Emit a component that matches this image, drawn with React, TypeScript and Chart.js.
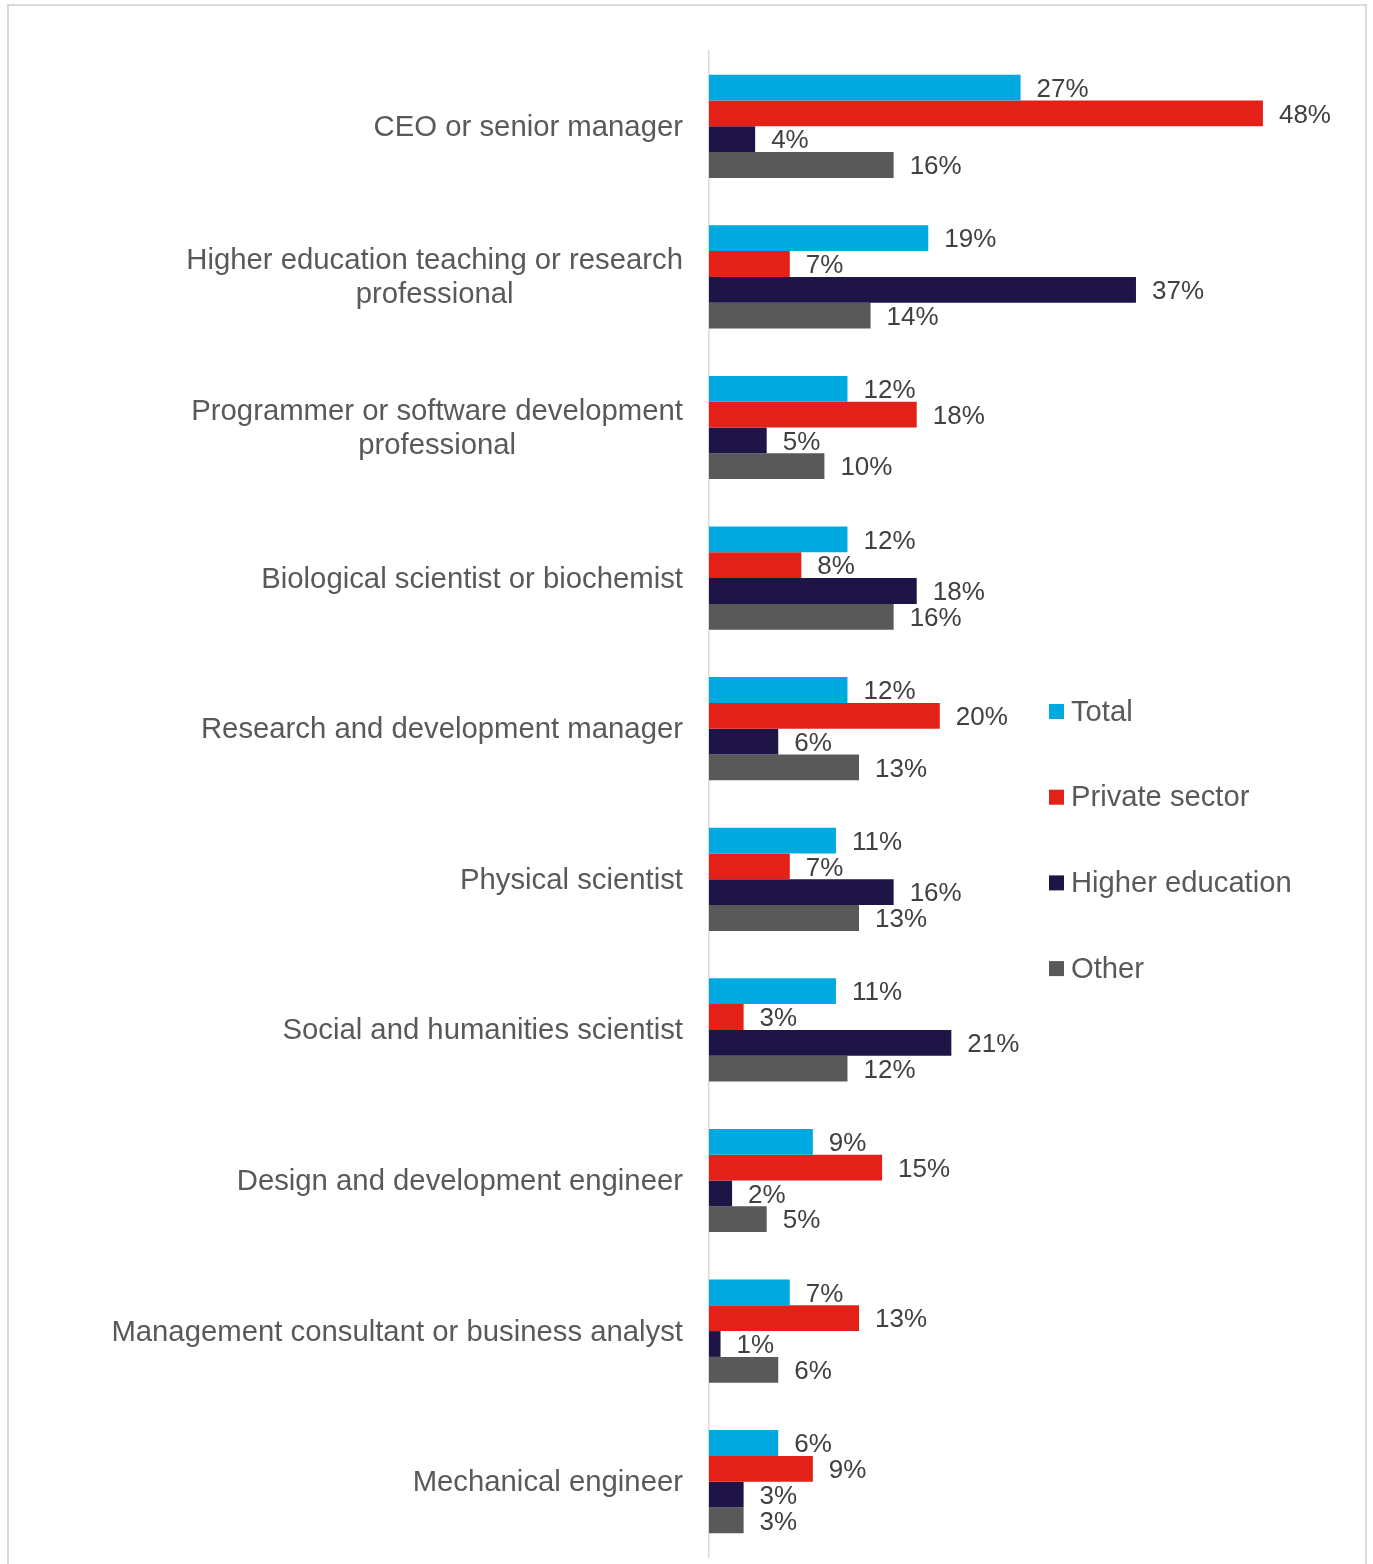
import React, { useEffect, useRef } from "react";
import { Chart, registerables } from "chart.js";

Chart.register(...registerables);

// Occupation categories (multi-line labels are split into lines)
const categories: string[][] = [
  ["CEO or senior manager"],
  ["Higher education teaching or research", "professional"],
  ["Programmer or software development", "professional"],
  ["Biological scientist or biochemist"],
  ["Research and development manager"],
  ["Physical scientist"],
  ["Social and humanities scientist"],
  ["Design and development engineer"],
  ["Management consultant or business analyst"],
  ["Mechanical engineer"],
];

const seriesNames = ["Total", "Private sector", "Higher education", "Other"];

// Share of respondents (%) per category
const totalValues = [27, 19, 12, 12, 12, 11, 11, 9, 7, 6];
const privateValues = [48, 7, 18, 8, 20, 7, 3, 15, 13, 9];
const higherEdValues = [4, 37, 5, 18, 6, 16, 21, 2, 1, 3];
const otherValues = [16, 14, 10, 16, 13, 13, 12, 5, 6, 3];

const seriesColors = ["#00A9E0", "#E32119", "#1E1446", "#595959"];
const axisMax = 50;

const FONT = '"Liberation Sans", Arial, Helvetica, sans-serif';

const categoryLabelPlugin = {
  id: "categoryLabels",
  afterDraw(chart: any) {
    const { ctx, chartArea } = chart;
    const yScale = chart.scales.y;
    const labels = chart.data.labels as string[][];
    ctx.save();
    ctx.font = `29.3px ${FONT}`;
    ctx.fillStyle = "#595959";
    ctx.textAlign = "center";
    ctx.textBaseline = "middle";
    const lineHeight = 34;
    const rightEdge = chartArea.left - 26;
    labels.forEach((lines, i) => {
      const yc = yScale.getPixelForValue(i) + 1.5;
      const widest = Math.max(...lines.map((l) => ctx.measureText(l).width));
      const cx = rightEdge - widest / 2;
      lines.forEach((line, j) => {
        const y = yc + (j - (lines.length - 1) / 2) * lineHeight;
        ctx.fillText(line, cx, y);
      });
    });
    ctx.restore();
  },
};

const valueLabelPlugin = {
  id: "valueLabels",
  afterDatasetsDraw(chart: any) {
    const { ctx } = chart;
    ctx.save();
    ctx.font = `26px ${FONT}`;
    ctx.fillStyle = "#404040";
    ctx.textAlign = "left";
    ctx.textBaseline = "middle";
    chart.data.datasets.forEach((ds: any, di: number) => {
      const meta = chart.getDatasetMeta(di);
      meta.data.forEach((el: any, i: number) => {
        ctx.fillText(`${ds.data[i]}%`, el.x + 16, el.y + 2);
      });
    });
    ctx.restore();
  },
};

const legendPlugin = {
  id: "sideLegend",
  afterDraw(chart: any) {
    const { ctx } = chart;
    ctx.save();
    ctx.font = `29.2px ${FONT}`;
    ctx.textAlign = "left";
    ctx.textBaseline = "middle";
    const x0 = 1049;
    const y0 = 711.5;
    const step = 85.7;
    chart.data.datasets.forEach((ds: any, i: number) => {
      const y = y0 + i * step;
      ctx.fillStyle = ds.backgroundColor;
      ctx.fillRect(x0, y - 7.5, 15, 15);
      ctx.fillStyle = "#595959";
      ctx.fillText(ds.label, x0 + 22, y + 1);
    });
    ctx.restore();
  },
};

export default function App() {
  const canvasRef = useRef<HTMLCanvasElement | null>(null);

  useEffect(() => {
    if (!canvasRef.current) return;
    const seriesData = [totalValues, privateValues, higherEdValues, otherValues];
    const chart = new Chart(canvasRef.current, {
      type: "bar",
      data: {
        labels: categories,
        datasets: seriesNames.map((name, i) => ({
          label: name,
          data: seriesData[i],
          backgroundColor: seriesColors[i],
          borderWidth: 0,
          categoryPercentage: 0.685,
          barPercentage: 1.0,
        })),
      },
      options: {
        indexAxis: "y",
        responsive: false,
        animation: false,
        devicePixelRatio: 1,
        layout: { padding: { left: 709, right: 87, top: 51, bottom: 7 } },
        plugins: {
          legend: { display: false },
          tooltip: { enabled: false },
        },
        scales: {
          x: {
            display: false,
            min: 0,
            max: axisMax,
          },
          y: {
            display: true,
            ticks: { display: false },
            grid: { display: false, drawTicks: false },
            border: { display: true, color: "#D9D9D9", width: 1.5 },
            afterFit: (scale: any) => {
              scale.width = 0;
            },
          },
        },
      },
      plugins: [categoryLabelPlugin, valueLabelPlugin, legendPlugin],
    } as any);
    return () => chart.destroy();
  }, []);

  return (
    <div
      style={{
        position: "absolute",
        left: 0,
        top: 0,
        width: 1373,
        height: 1564,
        background: "#ffffff",
        overflow: "hidden",
      }}
    >
      <canvas
        ref={canvasRef}
        width={1373}
        height={1564}
        style={{ position: "absolute", left: 0, top: 0, width: 1373, height: 1564 }}
      />
      <div
        style={{
          position: "absolute",
          left: 7,
          top: 4,
          width: 1356,
          height: 1600,
          border: "2px solid #D9D9D9",
          boxSizing: "content-box",
          pointerEvents: "none",
        }}
      />
    </div>
  );
}
